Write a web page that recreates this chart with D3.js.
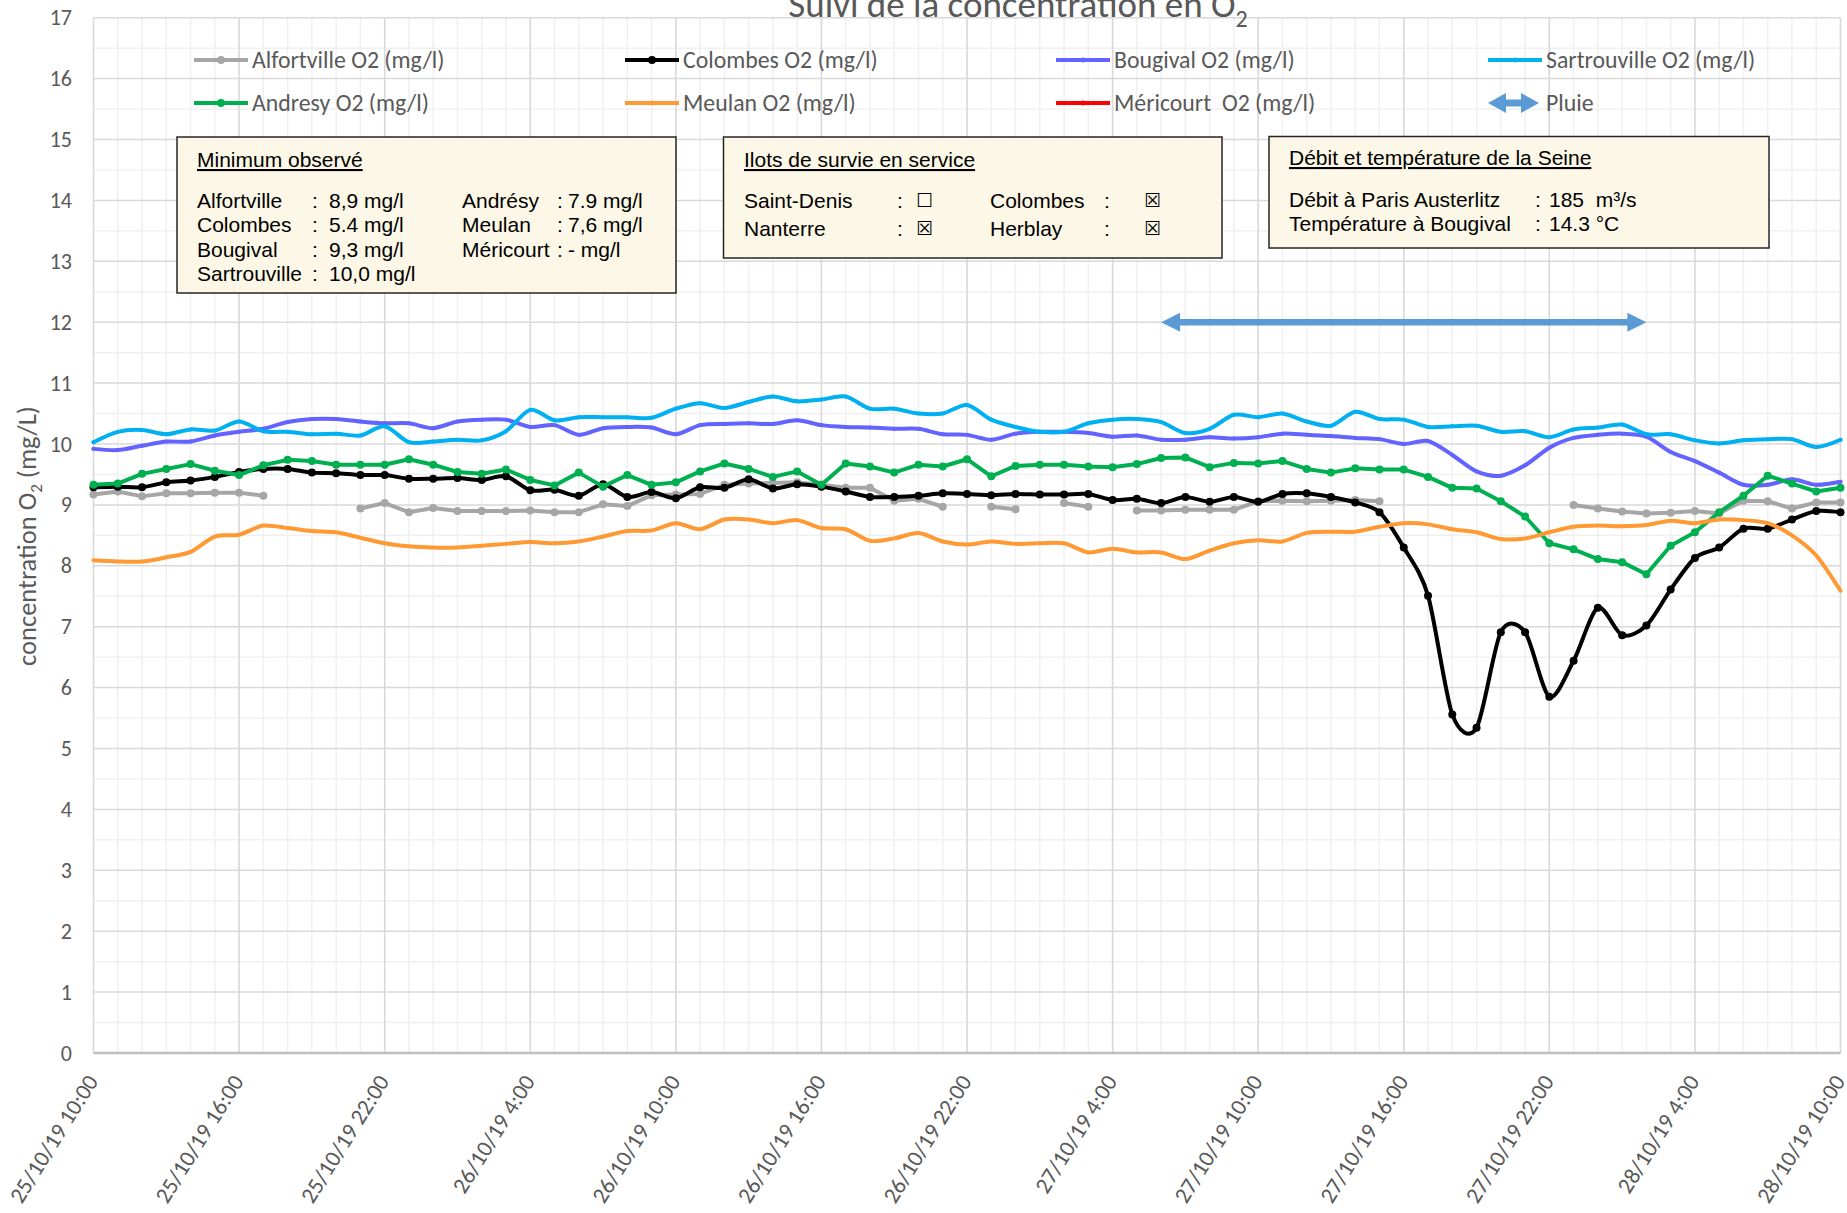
<!DOCTYPE html>
<html>
<head>
<meta charset="utf-8">
<script src="https://cdn.jsdelivr.net/npm/d3@7"></script>
<style>
  body { margin: 0; background: #fff; }
  svg text { font-family: Carlito, Calibri, Lato, sans-serif; }
  .box text { font-family: Arial, "Liberation Sans", sans-serif; font-size: 21px; fill: #000; }
  .box .glyph { font-family: "DejaVu Sans", sans-serif; font-size: 19px; }
  .legend text { white-space: pre; }
</style>
</head>
<body>
<svg id="chart" width="1847" height="1213"></svg>
<script>
// hourly readings from 25/10/19 10:00 to 28/10/19 10:00 (73 steps)
var start = new Date(Date.UTC(2019, 9, 25, 10, 0));
var times = d3.range(73).map(function(h) { return d3.utcHour.offset(start, h); });

var xTickLabels = ["25/10/19 10:00", "25/10/19 16:00", "25/10/19 22:00", "26/10/19 4:00",
    "26/10/19 10:00", "26/10/19 16:00", "26/10/19 22:00", "27/10/19 4:00", "27/10/19 10:00",
    "27/10/19 16:00", "27/10/19 22:00", "28/10/19 4:00", "28/10/19 10:00"];
var yTicks = d3.range(0, 18);

var alfortville = [9.17, 9.22, 9.14, 9.19, 9.19, 9.20, 9.20, 9.15, null, null, null, 8.94, 9.03, 8.88, 8.95, 8.90, 8.90, 8.90, 8.91,
    8.88, 8.88, 9.01, 8.98, 9.16, 9.17, 9.18, 9.33, 9.35, 9.36, 9.37, 9.33, 9.28, 9.28, 9.07, 9.10, 8.97, null,
    8.97, 8.93, null, 9.03, 8.97, null, 8.91, 8.91, 8.92, 8.92, 8.92, 9.06, 9.07, 9.06, 9.07, 9.08, 9.06, null,
    null, null, null, null, null, null, 9.00, 8.94, 8.89, 8.86, 8.87, 8.90, 8.86, 9.07, 9.06, 8.94, 9.04, 9.04];
var colombes = [9.29, 9.30, 9.29, 9.37, 9.40, 9.46, 9.54, 9.59, 9.59, 9.53, 9.52, 9.49, 9.49, 9.43, 9.43, 9.44, 9.41, 9.47, 9.24,
    9.25, 9.15, 9.34, 9.13, 9.21, 9.11, 9.29, 9.28, 9.42, 9.27, 9.34, 9.30, 9.22, 9.13, 9.13, 9.15, 9.19, 9.18,
    9.16, 9.18, 9.17, 9.17, 9.18, 9.08, 9.10, 9.03, 9.13, 9.05, 9.13, 9.05, 9.18, 9.19, 9.13, 9.04, 8.88, 8.30,
    7.51, 5.56, 5.34, 6.91, 6.91, 5.85, 6.44, 7.31, 6.86, 7.02, 7.61, 8.13, 8.30, 8.61, 8.61, 8.76, 8.90, 8.88];
var bougival = [9.92, 9.90, 9.97, 10.04, 10.04, 10.14, 10.20, 10.25, 10.36, 10.41, 10.41, 10.37, 10.34, 10.34, 10.26, 10.37, 10.40, 10.40, 10.28,
    10.31, 10.15, 10.26, 10.28, 10.27, 10.16, 10.31, 10.33, 10.34, 10.33, 10.39, 10.31, 10.28, 10.27, 10.25, 10.25, 10.16, 10.15,
    10.07, 10.17, 10.20, 10.20, 10.18, 10.12, 10.14, 10.07, 10.07, 10.11, 10.09, 10.11, 10.17, 10.15, 10.13, 10.10, 10.08, 10.00,
    10.05, 9.82, 9.55, 9.48, 9.65, 9.94, 10.10, 10.15, 10.17, 10.12, 9.87, 9.72, 9.53, 9.33, 9.33, 9.42, 9.33, 9.38];
var sartrouville = [10.03, 10.20, 10.23, 10.16, 10.24, 10.22, 10.37, 10.21, 10.20, 10.16, 10.17, 10.14, 10.29, 10.03, 10.04, 10.07, 10.06, 10.21, 10.56,
    10.39, 10.44, 10.44, 10.44, 10.43, 10.58, 10.67, 10.59, 10.69, 10.78, 10.70, 10.73, 10.78, 10.58, 10.58, 10.50, 10.50, 10.64,
    10.40, 10.28, 10.20, 10.20, 10.34, 10.40, 10.41, 10.36, 10.18, 10.25, 10.48, 10.44, 10.50, 10.37, 10.30, 10.53, 10.41, 10.40,
    10.28, 10.29, 10.30, 10.20, 10.21, 10.11, 10.24, 10.27, 10.32, 10.16, 10.16, 10.06, 10.01, 10.06, 10.08, 10.08, 9.95, 10.07];
var andresy = [9.33, 9.35, 9.51, 9.59, 9.67, 9.56, 9.49, 9.65, 9.74, 9.72, 9.66, 9.66, 9.66, 9.75, 9.66, 9.54, 9.51, 9.58, 9.41,
    9.32, 9.53, 9.30, 9.49, 9.33, 9.37, 9.55, 9.68, 9.59, 9.46, 9.55, 9.33, 9.68, 9.63, 9.53, 9.66, 9.63, 9.75,
    9.47, 9.64, 9.66, 9.66, 9.63, 9.62, 9.67, 9.77, 9.78, 9.62, 9.69, 9.68, 9.72, 9.59, 9.53, 9.60, 9.58, 9.58,
    9.46, 9.28, 9.27, 9.06, 8.81, 8.37, 8.27, 8.11, 8.06, 7.86, 8.33, 8.55, 8.88, 9.15, 9.48, 9.35, 9.22, 9.28];
var meulan = [8.09, 8.07, 8.07, 8.14, 8.23, 8.48, 8.51, 8.66, 8.62, 8.57, 8.55, 8.46, 8.37, 8.32, 8.30, 8.30, 8.33, 8.36, 8.39,
    8.37, 8.40, 8.48, 8.57, 8.58, 8.70, 8.60, 8.76, 8.76, 8.70, 8.75, 8.62, 8.60, 8.41, 8.45, 8.54, 8.40, 8.35,
    8.40, 8.36, 8.37, 8.37, 8.22, 8.28, 8.22, 8.22, 8.11, 8.25, 8.37, 8.42, 8.40, 8.54, 8.56, 8.56, 8.64, 8.70,
    8.68, 8.60, 8.55, 8.44, 8.45, 8.55, 8.64, 8.66, 8.65, 8.67, 8.74, 8.70, 8.76, 8.75, 8.70, 8.50, 8.17, 7.59];
var mericourt = [];   // no readings

// rain period (hours from start) and its level on the chart
var pluie = [44, 64];
var pluieLevel = 12;

var minimumLeft = [["Alfortville", "8,9 mg/l"], ["Colombes", "5.4 mg/l"], ["Bougival", "9,3 mg/l"], ["Sartrouville", "10,0 mg/l"]];
var minimumRight = [["Andrésy", "7.9 mg/l"], ["Meulan", "7,6 mg/l"], ["Méricourt", "- mg/l"]];
var ilots = [["Saint-Denis", "\u2610", "Colombes", "\u2612"], ["Nanterre", "\u2612", "Herblay", "\u2612"]];
var debit = [["Débit à Paris Austerlitz", "185  m³/s"], ["Température à Bougival", "14.3 °C"]];

var series = [
    {name: "Alfortville O2 (mg/l)", values: alfortville, color: "#A6A6A6", r: 4, smooth: false},
    {name: "Colombes O2 (mg/l)", values: colombes, color: "#000000", r: 4, smooth: true},
    {name: "Bougival O2 (mg/l)", values: bougival, color: "#6363FF", r: 2, smooth: true},
    {name: "Sartrouville O2 (mg/l)", values: sartrouville, color: "#00B0F0", r: 2, smooth: true},
    {name: "Andresy O2 (mg/l)", values: andresy, color: "#00B050", r: 4, smooth: false},
    {name: "Meulan O2 (mg/l)", values: meulan, color: "#FF9933", r: 0, smooth: true},
    {name: "Méricourt  O2 (mg/l)", values: mericourt, color: "#FF0000", r: 2, smooth: false}
];

var svg = d3.select("#chart");
var plotL = 93.5, plotR = 1840.5, plotT = 17.7, plotB = 1053;

var x = d3.scaleUtc().domain([times[0], times[72]]).range([plotL, plotR]);
var y = d3.scaleLinear().domain([0, 17]).range([plotB, plotT]);

svg.append("rect").attr("width", 1847).attr("height", 1213).attr("fill", "#fff");

// grid: minor every hour / 0.5, major every 6 hours / 1
var grid = svg.append("g");
grid.selectAll(".vmin").data(times).enter().append("line")
    .attr("x1", function(d) { return x(d); }).attr("x2", function(d) { return x(d); })
    .attr("y1", plotT).attr("y2", plotB)
    .attr("stroke", "#f0f0f0").attr("stroke-width", 1.5);
grid.selectAll(".hmin").data(d3.range(0.5, 17, 1)).enter().append("line")
    .attr("x1", plotL).attr("x2", plotR)
    .attr("y1", function(d) { return y(d); }).attr("y2", function(d) { return y(d); })
    .attr("stroke", "#f0f0f0").attr("stroke-width", 1.5);
var majorTimes = times.filter(function(d, i) { return i % 6 === 0; });
grid.selectAll(".vmaj").data(majorTimes).enter().append("line")
    .attr("x1", function(d) { return x(d); }).attr("x2", function(d) { return x(d); })
    .attr("y1", plotT).attr("y2", plotB)
    .attr("stroke", "#d9d9d9").attr("stroke-width", 1.5);
grid.selectAll(".hmaj").data(yTicks).enter().append("line")
    .attr("x1", plotL).attr("x2", plotR)
    .attr("y1", function(d) { return y(d); }).attr("y2", function(d) { return y(d); })
    .attr("stroke", "#d9d9d9").attr("stroke-width", 1.5);
grid.append("line").attr("x1", plotL).attr("x2", plotR).attr("y1", plotB).attr("y2", plotB)
    .attr("stroke", "#bfbfbf").attr("stroke-width", 2.5);

// y axis
var yAxis = svg.append("g").attr("transform", "translate(" + plotL + ",0)")
    .call(d3.axisLeft(y).tickValues(yTicks).tickSize(0).tickPadding(21.5));
yAxis.select(".domain").remove();
yAxis.selectAll("text").attr("fill", "#595959").style("font-size", "22px");

// x axis
var xAxis = svg.append("g").attr("transform", "translate(0," + plotB + ")")
    .call(d3.axisBottom(x).tickValues(majorTimes).tickSize(0)
        .tickFormat(function(d, i) { return xTickLabels[i]; }));
xAxis.select(".domain").remove();
xAxis.selectAll("text")
    .attr("fill", "#595959").style("font-size", "23px")
    .attr("x", 0).attr("y", 0).attr("dy", "0.35em")
    .attr("text-anchor", "end")
    .attr("transform", "translate(-2,24) rotate(-58)");

// axis title
var yt = svg.append("text").attr("transform", "translate(27,536) rotate(-90)")
    .attr("text-anchor", "middle").attr("fill", "#595959").style("font-size", "26.5px")
    .attr("dy", "0.35em");
yt.append("tspan").text("concentration O");
yt.append("tspan").attr("dy", 6).style("font-size", "17px").text("2");
yt.append("tspan").attr("dy", -6).text(" (mg/L)");

// chart title
var title = svg.append("text").attr("x", 1018).attr("y", 17)
    .attr("text-anchor", "middle").attr("fill", "#595959").style("font-size", "37px");
title.append("tspan").text("Suivi de la concentration en O");
title.append("tspan").attr("dy", 10).style("font-size", "24px").text("2");

// series
var plot = svg.append("g");
series.forEach(function(s) {
    var pts = s.values.map(function(v, i) { return {t: times[i], v: v}; });
    var line = d3.line()
        .defined(function(d) { return d.v != null; })
        .x(function(d) { return x(d.t); })
        .y(function(d) { return y(d.v); })
        .curve(s.smooth ? d3.curveCardinal.tension(0.15) : d3.curveLinear);
    plot.append("path").datum(pts)
        .attr("fill", "none").attr("stroke", s.color)
        .attr("stroke-width", 4).attr("stroke-linejoin", "round").attr("stroke-linecap", "round")
        .attr("d", line);
    if (s.r > 0) {
        plot.selectAll(null).data(pts.filter(function(d) { return d.v != null; })).enter()
            .append("circle")
            .attr("cx", function(d) { return x(d.t); })
            .attr("cy", function(d) { return y(d.v); })
            .attr("r", s.r).attr("fill", s.color);
    }
});

// rain arrow
function doubleArrow(g, x0, x1, yc, head, headH, shaft, color) {
    var p = [[x0, yc], [x0 + head, yc - headH / 2], [x0 + head, yc - shaft / 2],
        [x1 - head, yc - shaft / 2], [x1 - head, yc - headH / 2], [x1, yc],
        [x1 - head, yc + headH / 2], [x1 - head, yc + shaft / 2],
        [x0 + head, yc + shaft / 2], [x0 + head, yc + headH / 2]];
    g.append("polygon").attr("points", p.map(function(d) { return d.join(","); }).join(" "))
        .attr("fill", color);
}
doubleArrow(plot, x(times[pluie[0]]), x(times[pluie[1]]), y(pluieLevel), 19, 19, 6.5, "#5B9BD5");

// legend
var legend = svg.append("g").attr("class", "legend");
var colX = [194, 625, 1056, 1488], rowY = [60, 103];
var legendItems = series.concat([{name: "Pluie", arrow: true}]);
legendItems.forEach(function(s, i) {
    var lx = colX[i % 4], ly = rowY[Math.floor(i / 4)];
    if (s.arrow) {
        doubleArrow(legend, lx, lx + 51, ly, 18, 20, 7, "#5B9BD5");
    } else {
        legend.append("line").attr("x1", lx).attr("x2", lx + 54).attr("y1", ly).attr("y2", ly)
            .attr("stroke", s.color).attr("stroke-width", 4);
        legend.append("circle").attr("cx", lx + 27).attr("cy", ly).attr("r", s.r > 2 ? 4 : 2.5)
            .attr("fill", s.color);
    }
    legend.append("text").attr("x", lx + 58).attr("y", ly).attr("dy", "0.35em")
        .attr("fill", "#595959").style("font-size", "23.8px").text(s.name);
});

// info boxes
function box(x0, y0, w, h) {
    var g = svg.append("g").attr("class", "box");
    g.append("rect").attr("x", x0).attr("y", y0).attr("width", w).attr("height", h)
        .attr("fill", "#FCF7E6").attr("stroke", "#262626").attr("stroke-width", 1.5);
    return g;
}
function txt(g, tx, ty, s, cls) {
    return g.append("text").attr("x", tx).attr("y", ty).attr("class", cls || null).text(s);
}

var b1 = box(177, 137, 499, 156);
txt(b1, 197, 167, "Minimum observé").style("text-decoration", "underline");
minimumLeft.forEach(function(r, i) {
    var ty = 208 + i * 24.4;
    txt(b1, 197, ty, r[0]); txt(b1, 312, ty, ":"); txt(b1, 329, ty, r[1]);
});
minimumRight.forEach(function(r, i) {
    var ty = 208 + i * 24.4;
    txt(b1, 462, ty, r[0]); txt(b1, 557, ty, ":"); txt(b1, 568, ty, r[1]);
});

var b2 = box(723.5, 137, 498.5, 121);
txt(b2, 744, 167, "Ilots de survie en service").style("text-decoration", "underline");
ilots.forEach(function(r, i) {
    var ty = 208 + i * 28;
    txt(b2, 744, ty, r[0]); txt(b2, 897, ty, ":"); txt(b2, 916, ty - 1, r[1], "glyph");
    txt(b2, 990, ty, r[2]); txt(b2, 1104, ty, ":"); txt(b2, 1144, ty - 1, r[3], "glyph");
});

var b3 = box(1269, 136.5, 500, 111.5);
txt(b3, 1289, 165, "Débit et température de la Seine").style("text-decoration", "underline");
debit.forEach(function(r, i) {
    var ty = 207 + i * 24.4;
    txt(b3, 1289, ty, r[0]); txt(b3, 1535, ty, ":");
    txt(b3, 1549, ty, r[1]).style("white-space", "pre");
});
</script>
</body>
</html>
